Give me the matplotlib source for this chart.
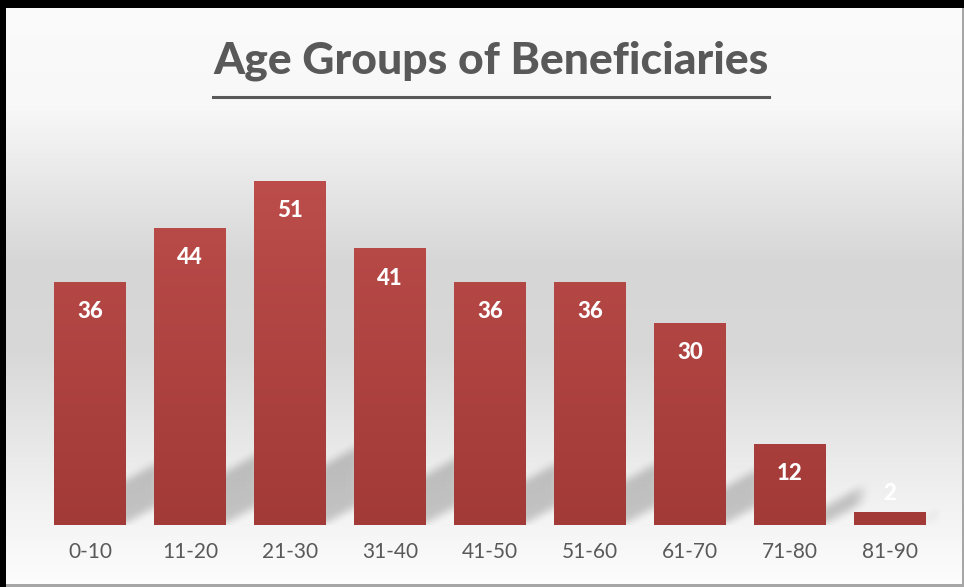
import numpy as np
import matplotlib.pyplot as plt
from matplotlib.colors import LinearSegmentedColormap
from matplotlib.patches import Rectangle

age_groups = ['0-10', '11-20', '21-30', '31-40', '41-50', '51-60', '61-70', '71-80', '81-90']
counts = [36, 44, 51, 41, 36, 36, 30, 12, 2]

plt.rcParams['font.family'] = ['Lato', 'DejaVu Sans']

W, H = 964, 587
fig = plt.figure(figsize=(W / 100, H / 100), dpi=100)

# background gradient over the whole figure
bg = fig.add_axes([0, 0, 1, 1], zorder=-10)
bg_cmap = LinearSegmentedColormap.from_list(
    'bg', [(0.0, '#fbfbfb'), (0.18, '#f8f8f8'), (0.45, '#d6d6d6'), (0.6, '#d8d8d8'), (0.85, '#f1f1f1'), (1.0, '#fdfdfd')])
grad = np.linspace(0, 1, 256).reshape(-1, 1)
bg.imshow(grad, aspect='auto', cmap=bg_cmap, extent=[0, W, H, 0])
bg.set_xlim(0, W)
bg.set_ylim(H, 0)
bg.axis('off')
# frame: heavy black on top/left, thin grey on right/bottom
bg.add_patch(Rectangle((0, 0), W, 8, color='black', lw=0))
bg.add_patch(Rectangle((0, 0), 6, H, color='black', lw=0))
bg.add_patch(Rectangle((W - 2, 8), 2, H, color='#a6a6a6', lw=0))
bg.add_patch(Rectangle((6, H - 3), W, 3, color='#a6a6a6', lw=0))

# plot area
ax_w, ax_h = 900, 405
ax = fig.add_axes([40 / W, (H - 525) / H, ax_w / W, ax_h / H])
ymax = 60
ax.set_xlim(-0.5, len(age_groups) - 0.5)
ax.set_ylim(0, ymax)
ax.patch.set_alpha(0)

x = np.arange(len(age_groups))
bar_w = 0.72
bars = ax.bar(x, counts, width=bar_w, color='none', edgecolor='none')

# soft diagonal shadows behind the bars (built in pixel space of the axes)
px_x = ax_w / len(age_groups)
px_y = ax_h / ymax
gx, gy = np.meshgrid(np.arange(ax_w) + 0.5, np.arange(ax_h) + 0.5)  # gy measured up from baseline
mask = np.zeros((ax_h, ax_w))
for xi, v in zip(x, counts):
    x1 = (xi + 0.5 + bar_w / 2) * px_x
    thick = 0.16 * v * px_y + 4
    d = gx - x1
    lower = 2 + 0.55 * d
    fade = np.clip((42 - d) / 14, 0, 1)
    inside = ((d > -20) & (gy > lower) & (gy < lower + thick)) * fade
    if v < 5:
        inside = inside * 0.3
    mask = np.maximum(mask, inside)
k = np.ones(9) / 9
for _ in range(2):
    mask = np.apply_along_axis(lambda r: np.convolve(r, k, mode='same'), 1, mask)
    mask = np.apply_along_axis(lambda c: np.convolve(c, k, mode='same'), 0, mask)
shadow = np.zeros((ax_h, ax_w, 4))
shadow[..., 3] = mask * 0.2
ax.imshow(shadow, origin='lower', aspect='auto', extent=[-0.5, len(age_groups) - 0.5, 0, ymax], zorder=1)

bar_cmap = LinearSegmentedColormap.from_list('bar', ['#a23a38', '#c0504d'])
for b in bars:
    x0, w = b.get_x(), b.get_width()
    im = ax.imshow(grad, aspect='auto', cmap=bar_cmap, origin='lower',
                   extent=[x0, x0 + w, 0, ymax], zorder=2)
    im.set_clip_path(b)

for xi, v in zip(x, counts):
    off = -30 if v * px_y > 45 else 18
    ax.annotate(str(v), (xi, v), xytext=(0, off), textcoords='offset pixels',
                ha='center', va='center', color='white', fontsize=16, fontweight='black', zorder=3)

ax.set_xticks(x)
ax.set_xticklabels(age_groups, fontsize=15, color='#595959')
ax.tick_params(axis='x', length=0, pad=12)
ax.set_yticks([])
ax.set_xlim(-0.5, len(age_groups) - 0.5)
ax.set_ylim(0, ymax)
for s in ax.spines.values():
    s.set_visible(False)

# title with underline
title = fig.text(491 / W, 1 - 61 / H, 'Age Groups of Beneficiaries', ha='center', va='center',
                 fontsize=32, fontweight='black', color='#595959')
fig.canvas.draw()
bb = title.get_window_extent()
fig.add_artist(plt.Line2D([bb.x0 / W, bb.x1 / W], [1 - 97 / H, 1 - 97 / H],
                          color='#595959', lw=2.2, transform=fig.transFigure))

fig.savefig('out.png', dpi=100)
